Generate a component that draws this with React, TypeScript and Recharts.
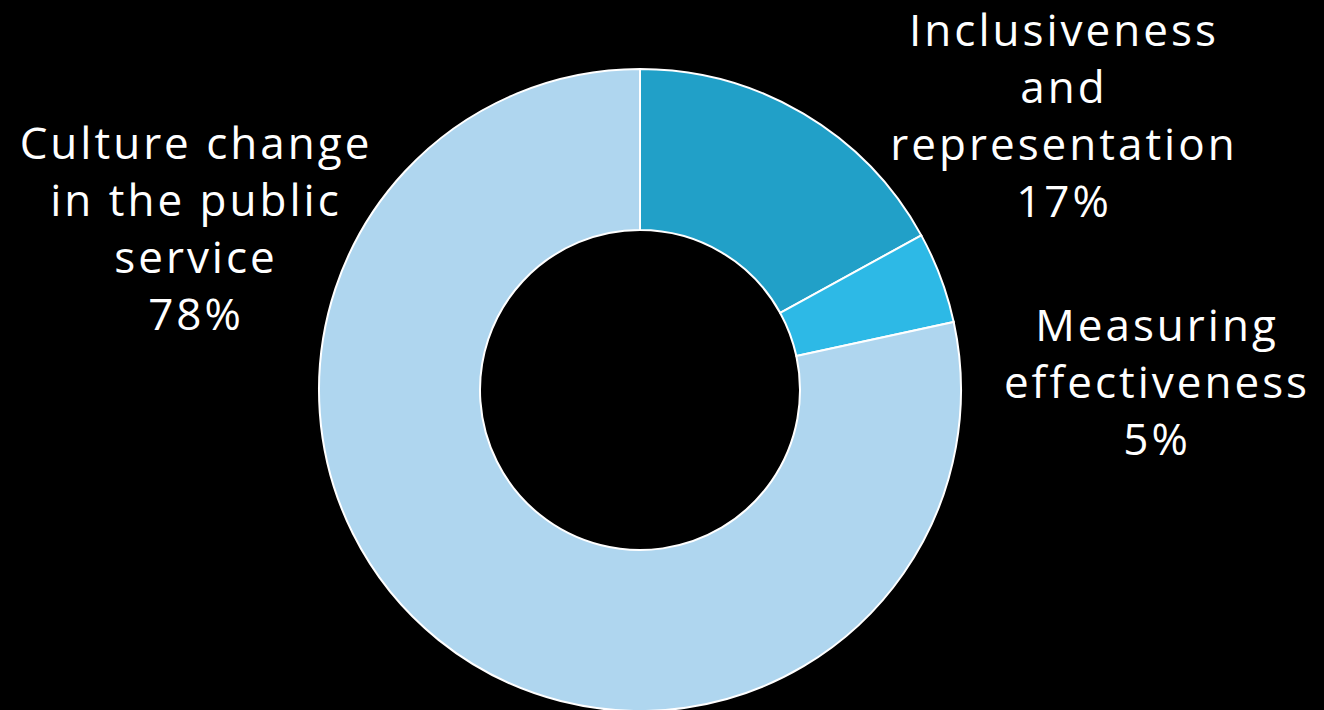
import React from "react";
import { PieChart, Pie, Cell } from "recharts";

const categories = [
  "Inclusiveness and representation",
  "Measuring effectiveness",
  "Culture change in the public service",
];
const values = [17, 4.6, 78.4];
const colors = ["#21A0C8", "#2DB9E6", "#AFD6EF"];
const labelLines = [
  ["Inclusiveness", "and", "representation", "17%"],
  ["Measuring", "effectiveness", "5%"],
  ["Culture change", "in the public", "service", "78%"],
];
// label anchor offsets relative to pie centre (layout only)
const labelOffsets = [
  { dx: 424, dy: -361 },
  { dx: 517, dy: -66 },
  { dx: -444, dy: -248 },
];

const data = categories.map((name, i) => ({ name, value: values[i] }));

const LINE_H = 57;

const renderLabel = (props: any) => {
  const { cx, cy, index } = props;
  const off = labelOffsets[index];
  const lines = labelLines[index];
  return (
    <text
      key={`lbl-${index}`}
      x={cx + off.dx}
      y={cy + off.dy}
      textAnchor="middle"
      fill="#FFFFFF"
      fontFamily="'Open Sans', Lato, sans-serif"
      fontSize={44}
      fontWeight={400}
      letterSpacing={3}
    >
      {lines.map((l, j) => (
        <tspan key={j} x={cx + off.dx} dy={j === 0 ? 0 : LINE_H} dominantBaseline="central">
          {l}
        </tspan>
      ))}
    </text>
  );
};

export default function App() {
  return (
    <div style={{ position: "absolute", left: 0, top: 0, width: 1324, height: 710, background: "#000" }}>
      <PieChart width={1324} height={710} margin={{ top: 0, right: 0, bottom: 0, left: 0 }}>
        <Pie
          data={data}
          dataKey="value"
          nameKey="name"
          cx={640}
          cy={390}
          innerRadius={160}
          outerRadius={321}
          startAngle={90}
          endAngle={-270}
          stroke="#FFFFFF"
          strokeWidth={2}
          label={renderLabel}
          labelLine={false}
          isAnimationActive={false}
        >
          {data.map((d, i) => (
            <Cell key={d.name} fill={colors[i]} />
          ))}
        </Pie>
      </PieChart>
    </div>
  );
}
